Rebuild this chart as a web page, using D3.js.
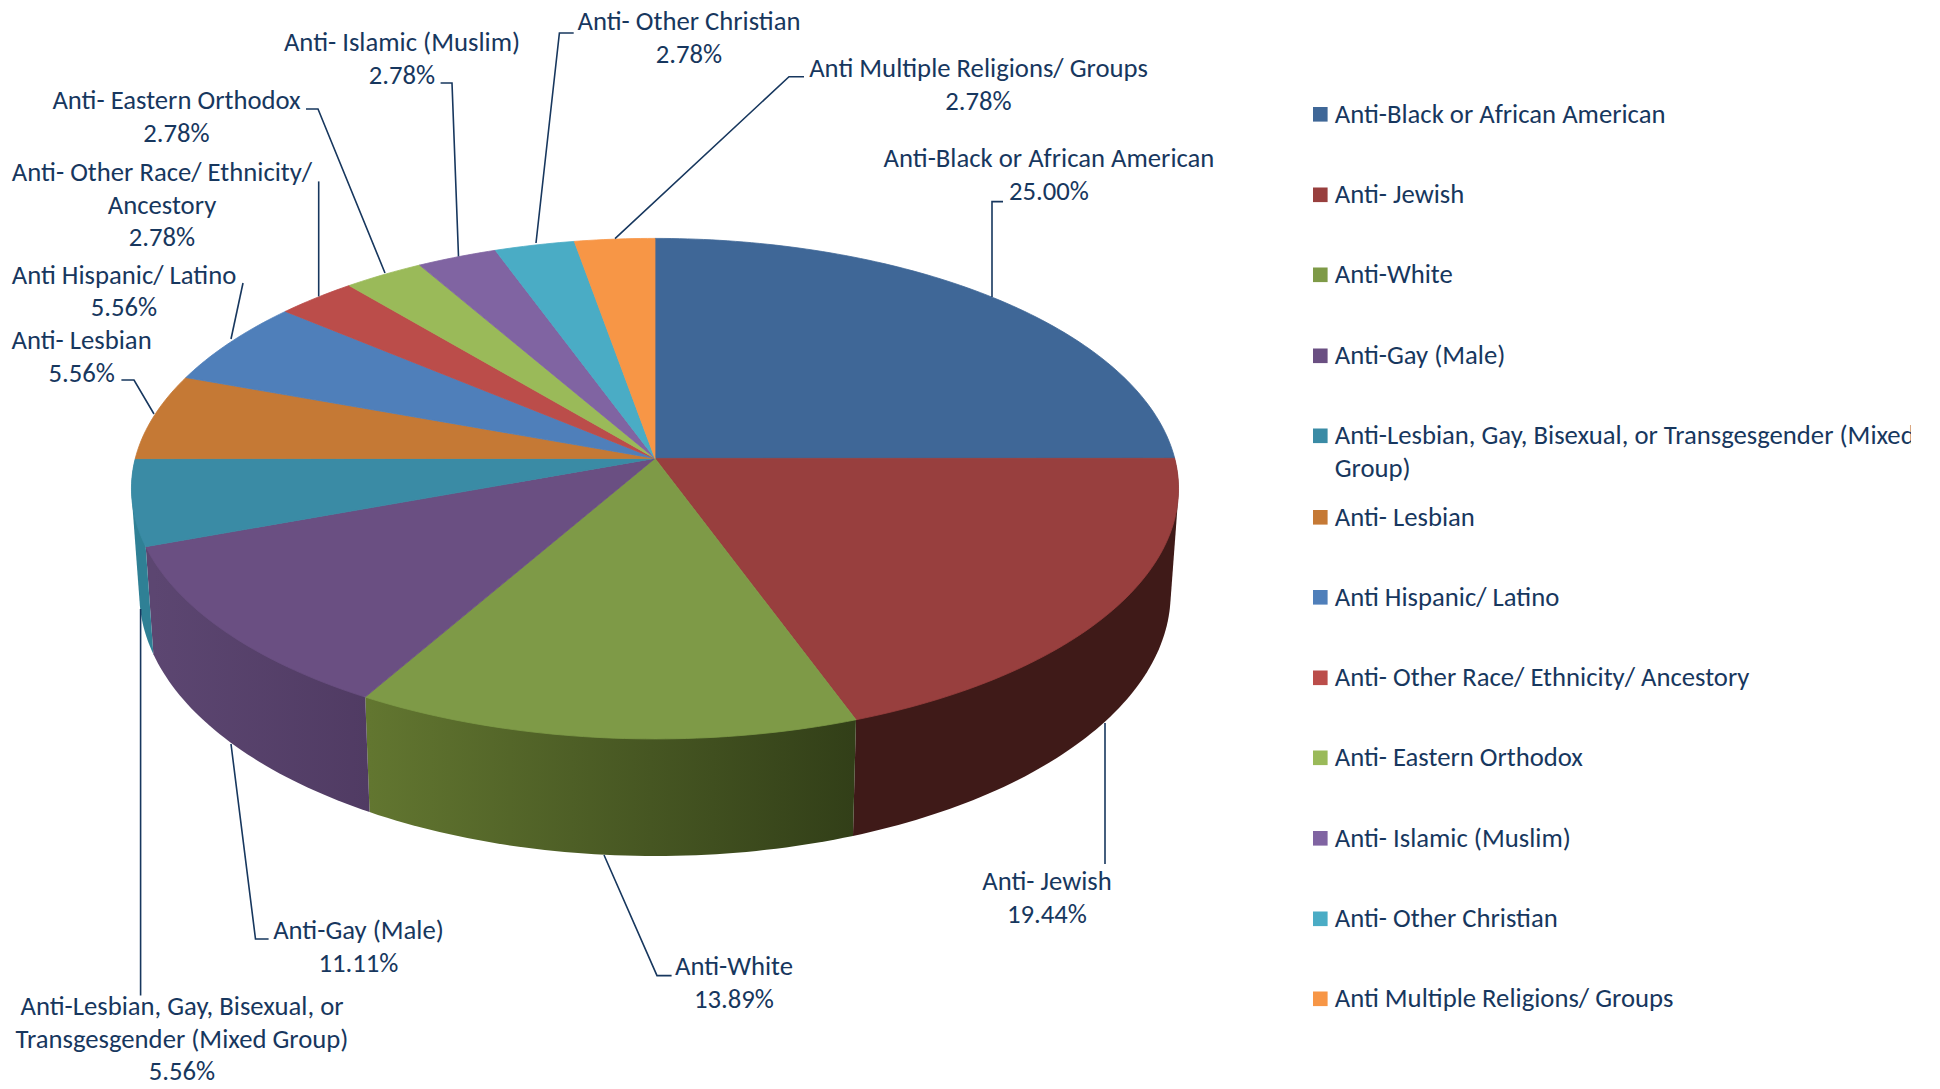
<!DOCTYPE html>
<html>
<head>
<meta charset="utf-8">
<script src="https://cdnjs.cloudflare.com/ajax/libs/d3/7.8.5/d3.min.js"></script>
<style>
	body { margin: 0; background: #fff; }
	text { font-family: Carlito, Lato, sans-serif; font-size: 26.7px; fill: #17375e; }
</style>
</head>
<body>
<div id="plot"></div>
<script>
// Slices, clockwise from twelve o'clock.
var categories = ["Anti-Black or African American", "Anti- Jewish", "Anti-White", "Anti-Gay (Male)",
	"Anti-Lesbian, Gay, Bisexual, or Transgesgender (Mixed Group)", "Anti- Lesbian", "Anti Hispanic/ Latino",
	"Anti- Other Race/ Ethnicity/ Ancestory", "Anti- Eastern Orthodox", "Anti- Islamic (Muslim)",
	"Anti- Other Christian", "Anti Multiple Religions/ Groups"];
var values = [25.00, 19.44, 13.89, 11.11, 5.56, 5.56, 5.56, 2.78, 2.78, 2.78, 2.78, 2.78];
var colors = ["#3f6797", "#983f3e", "#7e9a47", "#6a4f82", "#3a8ba5", "#c57935",
	"#4f7fba", "#bb4d4a", "#9aba59", "#8064a2", "#4aacc5", "#f79646"];

// Side wall colours per visible slice: [colour at slice start, colour at slice end].
var wallColors = {
	1: ["#3f1a18", "#3f1a18"],
	2: ["#323f18", "#627630"],
	3: ["#503b63", "#5c4671"],
	4: ["#2f8095", "#2f8095"]
};

// Data label text, wrapped as in the picture.
var labelLines = [
	["Anti-Black or African American"], ["Anti- Jewish"], ["Anti-White"], ["Anti-Gay (Male)"],
	["Anti-Lesbian, Gay, Bisexual, or", "Transgesgender (Mixed Group)"], ["Anti- Lesbian"], ["Anti Hispanic/ Latino"],
	["Anti- Other Race/ Ethnicity/", "Ancestory"], ["Anti- Eastern Orthodox"], ["Anti- Islamic (Muslim)"],
	["Anti- Other Christian"], ["Anti Multiple Religions/ Groups"]
];
// Label layout: centre x and first line middle y.
var labelX = [1049, 1047, 734, 358.5, 182, 81.6, 124, 162, 176.5, 402, 689, 978.5];
var labelY = [161, 884, 969, 933, 1009, 343, 277.6, 175, 103, 45, 24, 71];
// Leader lines, from the pie rim to the label.
var leaders = [
	[[992, 297], [992, 201.6], [1003, 201.6]],
	[[1105, 723], [1105, 864]],
	[[604, 855], [657, 975.6], [671.6, 975.6]],
	[[231, 744], [255.5, 939], [268.6, 939]],
	[[140.6, 609], [140.6, 995.5]],
	[[154, 414], [134, 380], [121.4, 380]],
	[[231, 339], [243, 283]],
	[[318.7, 296.4], [318.7, 181.4]],
	[[385, 273], [318, 109], [306, 109]],
	[[458.5, 256.4], [452, 83], [440.6, 83]],
	[[536, 243], [559.4, 33], [573.7, 33]],
	[[615, 238.7], [789, 76.7], [804, 76.7]]
];
// Legend rows, the long one wraps and gets cut at the frame.
var legendY = [116.5, 197, 277, 358, 438, 519.5, 599.5, 680, 760, 840.5, 921, 1001];
var legendWrap = { 4: ["Anti-Lesbian, Gay, Bisexual, or Transgesgender (Mixed", "Group)"] };

var width = 1940,
	height = 1089,
	perspective = 0.1209;

var svg = d3.select("#plot")
	.append("svg")
	.attr("width", width)
	.attr("height", height);

var defs = svg.append("defs");
defs.append("clipPath")
	.attr("id", "frame")
	.append("rect")
	.attr("width", 1911)
	.attr("height", height);

// Scales for the tilted disc, u and v run from -1 to 1 after the perspective divide.
var x = d3.scaleLinear().domain([0, 1]).range([655, 655 + 519.7]);
var y = d3.scaleLinear().domain([0, 1]).range([458.4, 458.4 + 246.6]);
var wallX = d3.scaleLinear().domain([0, 1]).range([655, 655 + 519.7 * 0.985]);
var wallY = d3.scaleLinear().domain([0, 1]).range([458 * 1.05 + 80.6, (458 + 246.6) * 1.05 + 80.6]);

function top_point(a) {
	var u = Math.sin(a), v = -Math.cos(a), w = 1 - perspective * v;
	return [x(u / w), y(v / w)];
}
function bottom_point(a) {
	var u = Math.sin(a), v = -Math.cos(a), w = 1 - perspective * v;
	return [wallX(u / w), wallY(v / w)];
}
function steps(a0, a1) {
	var n = Math.ceil((a1 - a0) / (Math.PI / 180));
	return d3.range(n + 1).map(function(i) { return a0 + (a1 - a0) * i / n; });
}

var arcs = d3.pie().sort(null)(values);
var line = d3.line();

// Side walls first. The hull also covers the silhouette, the top face hides the rest of it.
Object.keys(wallColors).forEach(function(k) {
	var d = arcs[k],
		angles = steps(d.startAngle, d.endAngle),
		from = bottom_point(d.startAngle),
		to = bottom_point(d.endAngle);
	var grad = defs.append("linearGradient")
		.attr("id", "wall" + k)
		.attr("gradientUnits", "userSpaceOnUse")
		.attr("x1", from[0]).attr("x2", to[0])
		.attr("y1", 0).attr("y2", 0);
	grad.append("stop").attr("offset", 0).attr("stop-color", wallColors[k][0]);
	grad.append("stop").attr("offset", 1).attr("stop-color", wallColors[k][1]);
	var hull = d3.polygonHull(angles.map(top_point).concat(angles.map(bottom_point)));
	svg.append("path")
		.attr("d", line(hull) + "Z")
		.attr("fill", "url(#wall" + k + ")");
});

// Top face.
svg.append("g")
	.selectAll("path")
	.data(arcs)
	.enter()
	.append("path")
		.attr("d", function(d) {
			return line([[x(0), y(0)]].concat(steps(d.startAngle, d.endAngle).map(top_point))) + "Z";
		})
		.attr("fill", function(d, i) { return colors[i]; })
		.attr("stroke", function(d, i) { return colors[i]; })
		.attr("stroke-width", 0.8);

// Leader lines.
svg.append("g")
	.selectAll("path")
	.data(leaders)
	.enter()
	.append("path")
		.attr("d", line)
		.attr("fill", "none")
		.attr("stroke", "#17375e")
		.attr("stroke-width", 1.6);

// Data labels.
var labels = svg.append("g")
	.selectAll("text")
	.data(values)
	.enter()
	.append("text")
		.attr("text-anchor", "middle")
		.attr("dominant-baseline", "middle");
labels.each(function(d, i) {
	var rows = labelLines[i].concat([d.toFixed(2) + "%"]);
	d3.select(this).selectAll("tspan")
		.data(rows)
		.enter()
		.append("tspan")
			.attr("x", labelX[i])
			.attr("y", function(r, j) { return labelY[i] + j * 32.6; })
			.text(function(r) { return r; });
});

// Legend.
var legend = svg.append("g")
	.attr("clip-path", "url(#frame)")
	.selectAll("g")
	.data(categories)
	.enter()
	.append("g")
		.attr("transform", function(d, i) { return "translate(1313," + legendY[i] + ")"; });
legend.append("rect")
	.attr("y", -9.5)
	.attr("width", 14.6)
	.attr("height", 14.6)
	.attr("fill", function(d, i) { return colors[i]; });
legend.append("text")
	.attr("dominant-baseline", "middle")
	.each(function(d, i) {
		d3.select(this).selectAll("tspan")
			.data(legendWrap[i] || [d])
			.enter()
			.append("tspan")
				.attr("x", 21.7)
				.attr("y", function(r, j) { return j * 32.6; })
				.text(function(r) { return r; });
	});
</script>
</body>
</html>
